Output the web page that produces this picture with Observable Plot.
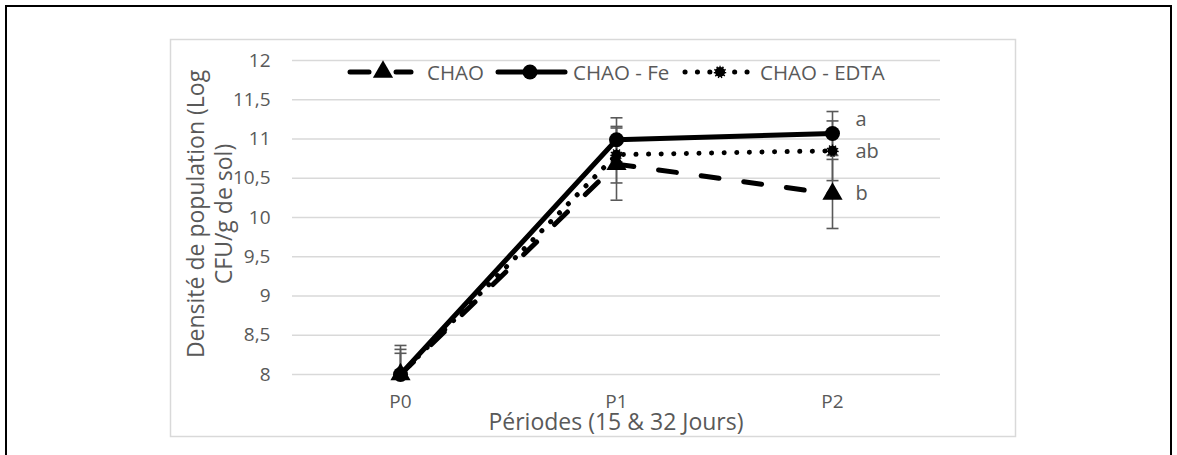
<!DOCTYPE html>
<html>
<head>
<meta charset="utf-8">
<script src="https://cdn.jsdelivr.net/npm/d3@7"></script>
<script src="https://cdn.jsdelivr.net/npm/@observablehq/plot@0.6"></script>
<style>
  html, body { margin: 0; padding: 0; background: #fff; }
  #chart svg { display: block; }
</style>
</head>
<body>
<div id="chart"></div>
<script>
// ---- data ----
const periods = ["P0", "P1", "P2"];
const seriesNames = ["CHAO", "CHAO - Fe", "CHAO - EDTA"];
const chao = [8.0, 10.68, 10.30];
const chaoErr = [0.37, 0.46, 0.44];
const chaoFe = [8.0, 10.99, 11.07];
const chaoFeErr = [0.27, 0.28, 0.28];
const chaoEdta = [8.0, 10.80, 10.85];
const chaoEdtaErr = [0.32, 0.36, 0.38];
const yTicks = [8, 8.5, 9, 9.5, 10, 10.5, 11, 11.5, 12];
const letters = ["a", "ab", "b"];
const letterY = [11.25, 10.84, 10.30];
const xTitle = "Périodes (15 & 32 Jours)";
const yTitle = ["Densité de population (Log", "CFU/g de sol)"];

// ---- build table ----
const seriesVals = [chao, chaoFe, chaoEdta];
const seriesErrs = [chaoErr, chaoFeErr, chaoEdtaErr];
const rows = [];
seriesNames.forEach((s, i) => periods.forEach((p, j) => rows.push({series: s, period: p, value: seriesVals[i][j], err: seriesErrs[i][j]})));
const bySeries = s => rows.filter(d => d.series === s);
const letterRows = letters.map((l, i) => ({label: l, period: "P2", value: letterY[i]}));

const gray = "#595959";
const capSymbol = { draw(ctx) { ctx.moveTo(-6, 0); ctx.lineTo(6, 0); } };

const fmt = v => String(v).replace(".", ",");

const chart = Plot.plot({
  width: 1177,
  height: 455,
  marginLeft: 292,
  marginRight: 237,
  marginTop: 60,
  marginBottom: 81,
  style: {fontFamily: "'Open Sans', sans-serif", fontSize: "19px", color: gray, background: "#fff"},
  x: {type: "point", domain: periods, padding: 0.5, label: null},
  y: {domain: [8, 12], label: null},
  marks: [
    Plot.ruleY(yTicks, {stroke: "#d9d9d9", strokeWidth: 1.5}),
    Plot.axisY({ticks: yTicks, tickSize: 0, tickPadding: 22, tickFormat: fmt, label: null, fontSize: 19}),
    Plot.axisX({tickSize: 0, tickPadding: 20, label: null, fontSize: 19}),
    // error bars
    Plot.ruleX(rows, {x: "period", y1: d => d.value - d.err, y2: d => d.value + d.err, stroke: gray, strokeWidth: 1.6, clip: true}),
    Plot.dot(rows, {x: "period", y: d => d.value + d.err, symbol: capSymbol, stroke: gray, strokeWidth: 1.6, fill: "none", clip: true}),
    Plot.dot(rows, {x: "period", y: d => d.value - d.err, symbol: capSymbol, stroke: gray, strokeWidth: 1.6, fill: "none", clip: true}),
    // lines
    Plot.line(bySeries("CHAO"), {x: "period", y: "value", stroke: "#000", strokeWidth: 5, strokeDasharray: "18,25", strokeLinecap: "round"}),
    Plot.line(bySeries("CHAO - EDTA"), {x: "period", y: "value", stroke: "#000", strokeWidth: 5, strokeDasharray: "0.1,12.5", strokeLinecap: "round"}),
    Plot.line(bySeries("CHAO - Fe"), {x: "period", y: "value", stroke: "#000", strokeWidth: 5, strokeLinecap: "round"}),
    // markers
    Plot.dot(bySeries("CHAO"), {x: "period", y: "value", symbol: "triangle", r: 7.5, fill: "#000"}),
    Plot.dot(bySeries("CHAO - EDTA"), {x: "period", y: "value", symbol: "circle", r: 5, fill: "#000", stroke: "#000", strokeWidth: 2.5, strokeDasharray: "1.2,1.6"}),
    Plot.dot(bySeries("CHAO - Fe"), {x: "period", y: "value", symbol: "circle", r: 7.5, fill: "#000"}),
    // significance letters
    Plot.text(letterRows, {x: "period", y: "value", text: "label", dx: 23, textAnchor: "start", fill: gray, fontSize: 20})
  ]
});

document.getElementById("chart").appendChild(chart);

// ---- decorations: borders, titles, legend ----
const svg = d3.select(chart);
svg.insert("path", ":first-child")
  .attr("d", "M6,460V6H1171V460").attr("fill", "none").attr("stroke", "#000").attr("stroke-width", 2);
svg.insert("rect", ":first-child")
  .attr("x", 170.5).attr("y", 39.5).attr("width", 845).attr("height", 397)
  .attr("fill", "none").attr("stroke", "#d9d9d9").attr("stroke-width", 1.5);

const titles = svg.append("g").attr("fill", gray).style("font-family", "'Open Sans', sans-serif").style("font-size", "23px");
titles.append("text").attr("x", 616).attr("y", 421).attr("text-anchor", "middle").attr("dominant-baseline", "central").text(xTitle);
yTitle.forEach((t, i) => {
  titles.append("text")
    .attr("transform", `translate(${195 + i * 28},214) rotate(-90)`)
    .attr("text-anchor", "middle").attr("dominant-baseline", "central").text(t);
});

// legend
const lg = svg.append("g").attr("text-anchor", "start").style("font-family", "'Open Sans', sans-serif").style("font-size", "20.5px");
const ly = 72;
// CHAO
lg.append("line").attr("x1", 350).attr("x2", 369).attr("y1", ly).attr("y2", ly).attr("stroke", "#000").attr("stroke-width", 5).attr("stroke-linecap", "round");
lg.append("line").attr("x1", 396).attr("x2", 411).attr("y1", ly).attr("y2", ly).attr("stroke", "#000").attr("stroke-width", 5).attr("stroke-linecap", "round");
lg.append("path").attr("transform", `translate(383,${ly})`).attr("d", d3.symbol(d3.symbolTriangle, Math.PI * 7.5 * 7.5)()).attr("fill", "#000");
lg.append("text").attr("x", 427).attr("y", ly).attr("text-anchor", "start").attr("dominant-baseline", "central").attr("fill", gray).text(seriesNames[0]);
// Fe
lg.append("line").attr("x1", 498).attr("x2", 565).attr("y1", ly).attr("y2", ly).attr("stroke", "#000").attr("stroke-width", 5).attr("stroke-linecap", "round");
lg.append("circle").attr("cx", 530).attr("cy", ly).attr("r", 7.5).attr("fill", "#000");
lg.append("text").attr("x", 573).attr("y", ly).attr("text-anchor", "start").attr("dominant-baseline", "central").attr("fill", gray).text(seriesNames[1]);
// EDTA
lg.append("line").attr("x1", 685).attr("x2", 750).attr("y1", ly).attr("y2", ly).attr("stroke", "#000").attr("stroke-width", 5).attr("stroke-linecap", "round").attr("stroke-dasharray", "0.1,12.3");
lg.append("circle").attr("cx", 720).attr("cy", ly).attr("r", 5).attr("fill", "#000").attr("stroke", "#000").attr("stroke-width", 2.5).attr("stroke-dasharray", "1.2,1.6");
lg.append("text").attr("x", 760).attr("y", ly).attr("text-anchor", "start").attr("dominant-baseline", "central").attr("fill", gray).text(seriesNames[2]);
</script>
</body>
</html>
